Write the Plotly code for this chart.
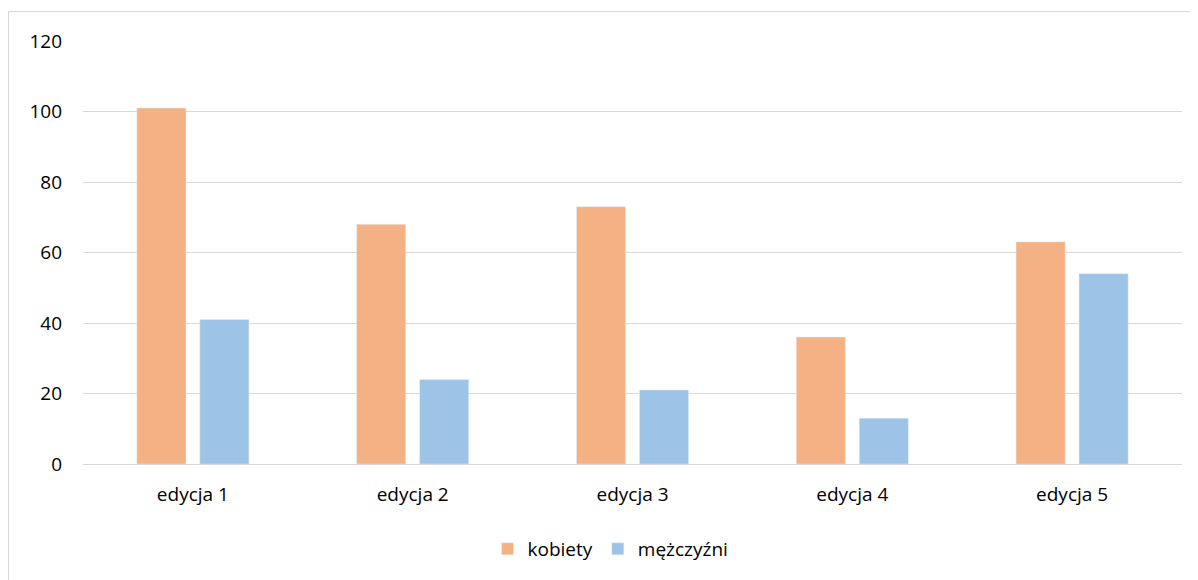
import plotly.graph_objects as go

EDYCJE = ["edycja 1", "edycja 2", "edycja 3", "edycja 4", "edycja 5"]
KOBIETY = [101, 68, 73, 36, 63]
MEZCZYZNI = [41, 24, 21, 13, 54]
Y_TICKS = [0, 20, 40, 60, 80, 100, 120]

_FONT = "Open Sans"
_TEXT = "#000000"
_GRID = "#d9d9d9"

# page has an 8px body margin, so the figure is 8px smaller each way
W, H = 1190, 572
L, R, T, B = 75, 16, 33, 116
pw, ph = W - L - R, H - T - B


def px_to_paper(x, y):
    return (x - L) / pw, (H - B - y) / ph


fig = go.Figure()
fig.add_trace(go.Bar(x=EDYCJE, y=KOBIETY, name="kobiety", marker_color="#f4b183"))
fig.add_trace(go.Bar(x=EDYCJE, y=MEZCZYZNI, name="mężczyźni", marker_color="#9dc3e6"))

x0, y1 = px_to_paper(0.5, 3.5)
x1, y0 = px_to_paper(W + 5, H + 5)
fig.add_shape(type="rect", xref="paper", yref="paper", x0=x0, x1=x1, y0=y0, y1=y1,
              line=dict(color="#d9d9d9", width=1), layer="below")

fig.update_layout(
    width=W,
    height=H,
    margin=dict(l=L, r=R, t=T, b=B),
    paper_bgcolor="white",
    plot_bgcolor="white",
    font=dict(family=_FONT, size=19, color=_TEXT),
    barmode="group",
    bargap=0.427,
    bargroupgap=0.22,
    showlegend=True,
    legend=dict(orientation="h", x=0.48, xanchor="center", y=-0.201, yanchor="middle",
                font=dict(size=19), itemwidth=30, traceorder="normal"),
    xaxis=dict(showgrid=False, showline=False, ticks="", ticklabelstandoff=17),
    yaxis=dict(range=[0, 120], tickvals=Y_TICKS, gridcolor=_GRID, gridwidth=1,
               zeroline=True, zerolinecolor=_GRID, zerolinewidth=1,
               showline=False, ticks="", ticklabelstandoff=20),
)

fig.write_html("out.html")
